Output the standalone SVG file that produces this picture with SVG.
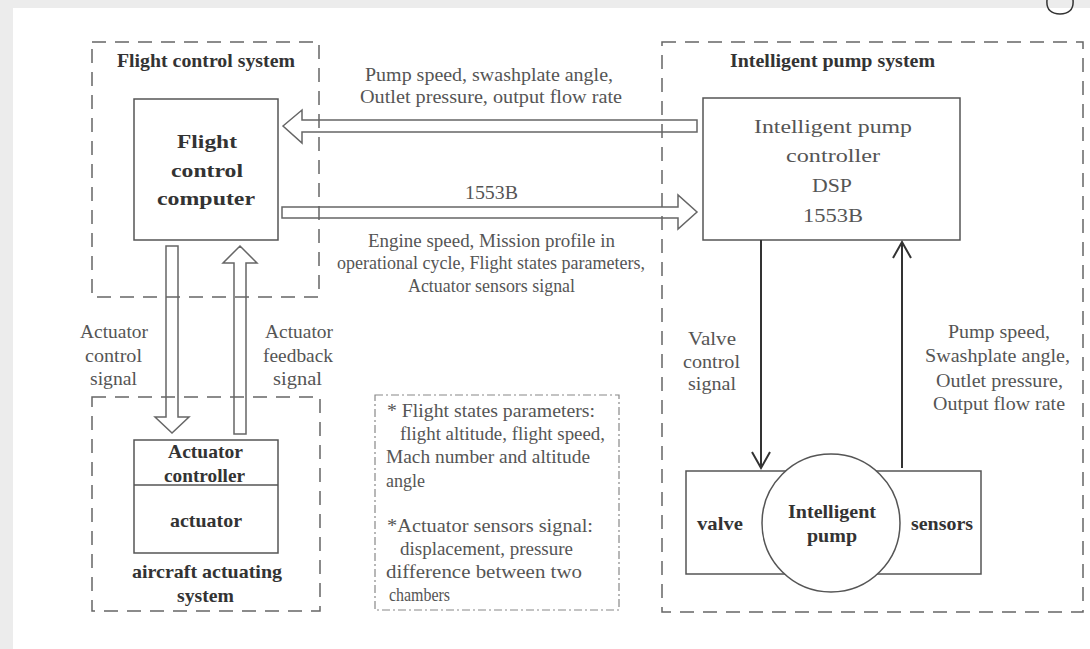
<svg xmlns="http://www.w3.org/2000/svg" width="1090" height="649" viewBox="0 0 1090 649">
<style>
.dash{fill:none;stroke:#666;stroke-width:1.5;stroke-dasharray:14 9}
.note{fill:none;stroke:#888;stroke-width:1.2;stroke-dasharray:8 3 2 3}
.box{fill:#fff;stroke:#555;stroke-width:1.5}
.hol{fill:none;stroke:#666;stroke-width:1.5;stroke-linejoin:miter}
.sol{fill:none;stroke:#333;stroke-width:2}
text{font-family:"Liberation Serif","Times New Roman",serif;fill:#555;font-size:19px}
.b{font-weight:bold;fill:#333}
.n{font-size:18px}
</style>
<rect x="0" y="0" width="1090" height="649" fill="#ececec"/>
<rect x="13" y="8" width="1077" height="641" fill="#fff"/>
<path d="M1047,0 C1046,10 1052,14 1060,14 C1068,14 1074,10 1073,0" fill="none" stroke="#333" stroke-width="1.5"/>

<g id="flight-control-system">
<rect class="dash" x="92" y="42" width="227" height="255"/>
<text class="b" x="117" y="67" font-size="18" textLength="178" lengthAdjust="spacingAndGlyphs">Flight control system</text>
</g>
<g id="flight-control-computer">
<rect class="box" x="134" y="99" width="144" height="141"/>
<text class="b" x="177" y="148" font-size="23" textLength="60" lengthAdjust="spacingAndGlyphs">Flight</text>
<text class="b" x="171" y="177" font-size="23" textLength="72" lengthAdjust="spacingAndGlyphs">control</text>
<text class="b" x="157" y="205" font-size="23" textLength="98" lengthAdjust="spacingAndGlyphs">computer</text>
</g>

<g id="intelligent-pump-system">
<rect class="dash" x="662" y="42" width="421" height="570"/>
<text class="b" x="730" y="67" font-size="18" textLength="205" lengthAdjust="spacingAndGlyphs">Intelligent pump system</text>
</g>
<g id="pump-controller">
<rect class="box" x="703" y="98" width="257" height="142"/>
<text x="754" y="133" font-size="24" textLength="158" lengthAdjust="spacingAndGlyphs">Intelligent pump</text>
<text x="786" y="162" font-size="24" textLength="94" lengthAdjust="spacingAndGlyphs">controller</text>
<text x="812" y="192" font-size="24" textLength="40" lengthAdjust="spacingAndGlyphs">DSP</text>
<text x="803" y="222" font-size="24" textLength="60" lengthAdjust="spacingAndGlyphs">1553B</text>
</g>

<g id="aircraft-actuating-system">
<rect class="dash" x="92" y="397" width="228" height="214"/>
<text class="b" x="132" y="578" textLength="150" lengthAdjust="spacingAndGlyphs">aircraft actuating</text>
<text class="b" x="177" y="602" textLength="57" lengthAdjust="spacingAndGlyphs">system</text>
</g>
<g id="actuator">
<rect class="box" x="134" y="440" width="144" height="113"/>
<line x1="134" y1="485" x2="278" y2="485" stroke="#555" stroke-width="1.5"/>
<text class="b" x="168" y="458" textLength="75" lengthAdjust="spacingAndGlyphs">Actuator</text>
<text class="b" x="164" y="482" textLength="81" lengthAdjust="spacingAndGlyphs">controller</text>
<text class="b" x="170" y="527" textLength="72" lengthAdjust="spacingAndGlyphs">actuator</text>
</g>

<g id="note">
<rect class="note" x="375" y="395" width="244" height="215"/>
<text class="n" x="387" y="417" textLength="208" lengthAdjust="spacingAndGlyphs">* Flight states parameters:</text>
<text class="n" x="400" y="440" textLength="205" lengthAdjust="spacingAndGlyphs">flight altitude, flight speed,</text>
<text class="n" x="386" y="463" textLength="204" lengthAdjust="spacingAndGlyphs">Mach number and altitude</text>
<text class="n" x="386" y="487" textLength="39" lengthAdjust="spacingAndGlyphs">angle</text>
<text class="n" x="387" y="532" textLength="206" lengthAdjust="spacingAndGlyphs">*Actuator sensors signal:</text>
<text class="n" x="400" y="555" textLength="173" lengthAdjust="spacingAndGlyphs">displacement, pressure</text>
<text class="n" x="386" y="578" textLength="196" lengthAdjust="spacingAndGlyphs">difference between two</text>
<text class="n" x="389" y="601" textLength="61" lengthAdjust="spacingAndGlyphs">chambers</text>
</g>

<g id="pump-unit">
<rect class="box" x="686" y="471" width="295" height="103"/>
<circle cx="831" cy="523" r="69" fill="#fff" stroke="#555" stroke-width="1.5"/>
<text class="b" x="697" y="530" font-size="18" textLength="46" lengthAdjust="spacingAndGlyphs">valve</text>
<text class="b" x="788" y="518" font-size="18" textLength="88" lengthAdjust="spacingAndGlyphs">Intelligent</text>
<text class="b" x="807" y="542" font-size="18" textLength="50" lengthAdjust="spacingAndGlyphs">pump</text>
<text class="b" x="911" y="530" font-size="18" textLength="62" lengthAdjust="spacingAndGlyphs">sensors</text>
</g>

<g id="connectors">
<polygon class="hol" points="283,126 302,110 302,120 697,120 697,132 302,132 302,143"/>
<polygon class="hol" points="282,207 678,207 678,195 697,212 678,229 678,218 282,218"/>
<polygon class="hol" points="166,246 178,246 178,417 189,417 172,433 155,417 166,417"/>
<polygon class="hol" points="234,434 234,263 223,263 240,246 257,263 246,263 246,434"/>
<line class="sol" x1="761" y1="240" x2="761" y2="468"/>
<polyline class="sol" points="752,452 761,468 770,452"/>
<line class="sol" x1="902" y1="468" x2="902" y2="242"/>
<polyline class="sol" points="893,258 902,242 911,258"/>
<text x="365" y="81" textLength="248" lengthAdjust="spacingAndGlyphs">Pump speed, swashplate angle,</text>
<text x="360" y="103" textLength="262" lengthAdjust="spacingAndGlyphs">Outlet pressure, output flow rate</text>
<text x="465" y="199" textLength="53" lengthAdjust="spacingAndGlyphs">1553B</text>
<text x="368" y="247" textLength="247" lengthAdjust="spacingAndGlyphs">Engine speed, Mission profile in</text>
<text x="337" y="269" textLength="308" lengthAdjust="spacingAndGlyphs">operational cycle, Flight states parameters,</text>
<text x="408" y="292" textLength="167" lengthAdjust="spacingAndGlyphs">Actuator sensors signal</text>
<text x="80" y="338" textLength="68" lengthAdjust="spacingAndGlyphs">Actuator</text>
<text x="85" y="362" textLength="57" lengthAdjust="spacingAndGlyphs">control</text>
<text x="90" y="385" textLength="47" lengthAdjust="spacingAndGlyphs">signal</text>
<text x="265" y="338" textLength="68" lengthAdjust="spacingAndGlyphs">Actuator</text>
<text x="263" y="362" textLength="70" lengthAdjust="spacingAndGlyphs">feedback</text>
<text x="273" y="385" textLength="49" lengthAdjust="spacingAndGlyphs">signal</text>
<text x="688" y="345" textLength="48" lengthAdjust="spacingAndGlyphs">Valve</text>
<text x="683" y="368" textLength="57" lengthAdjust="spacingAndGlyphs">control</text>
<text x="688" y="390" textLength="48" lengthAdjust="spacingAndGlyphs">signal</text>
<text x="948" y="338" textLength="102" lengthAdjust="spacingAndGlyphs">Pump speed,</text>
<text x="925" y="362" textLength="145" lengthAdjust="spacingAndGlyphs">Swashplate angle,</text>
<text x="936" y="387" textLength="127" lengthAdjust="spacingAndGlyphs">Outlet pressure,</text>
<text x="933" y="410" textLength="132" lengthAdjust="spacingAndGlyphs">Output flow rate</text>
</g>
</svg>
